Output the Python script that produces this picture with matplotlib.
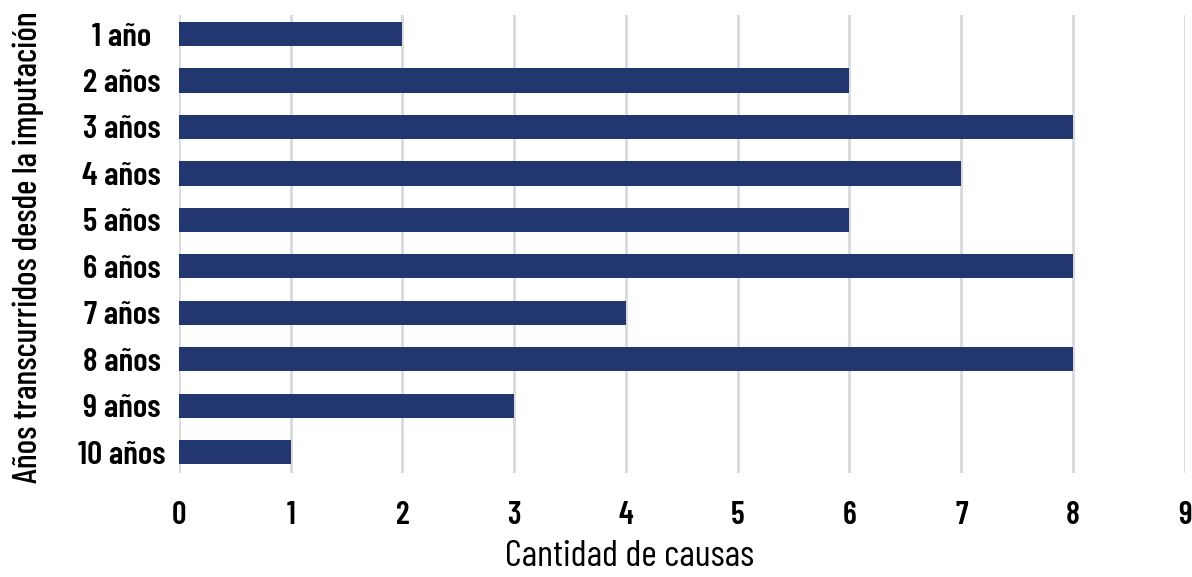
import matplotlib
matplotlib.use("Agg")
import matplotlib.pyplot as plt

# datos
categorias = ["1 año", "2 años", "3 años", "4 años", "5 años",
              "6 años", "7 años", "8 años", "9 años", "10 años"]
causas = [2, 6, 8, 7, 6, 8, 4, 8, 3, 1]

plt.rcParams["font.family"] = ["Barlow Condensed", "DejaVu Sans"]

fig = plt.figure(figsize=(11.92, 5.77), dpi=100)
ax = fig.add_axes([0.150, 0.180, 0.844, 0.794])

y = list(range(len(categorias)))
ax.barh(y, causas, height=0.52, color="#22376f", zorder=3)
ax.set_ylim(9.45, -0.41)
ax.set_xlim(0, 9)
ax.set_xticks(range(0, 10))
ax.set_yticks(y)
ax.set_yticklabels(categorias, fontsize=24, fontweight="semibold")
for lbl in ax.get_yticklabels():
    lbl.set_horizontalalignment("center")
for lbl in ax.get_xticklabels():
    lbl.set_fontsize(23)
    lbl.set_fontweight("semibold")

ax.grid(axis="x", color="#d9d9d9", linewidth=2, zorder=0)
for s in ax.spines.values():
    s.set_visible(False)
ax.tick_params(length=0)
ax.tick_params(axis="x", pad=20)
ax.tick_params(axis="y", pad=41)

ax.set_xlabel("Cantidad de causas", fontsize=27)
ax.xaxis.set_label_coords(0.448, -0.145)
ax.set_ylabel("Años transcurridos desde la imputación", fontsize=24.5,
              fontweight="medium")
ax.yaxis.set_label_coords(-0.134, 0.493)

fig.savefig("out.png", dpi=100)
